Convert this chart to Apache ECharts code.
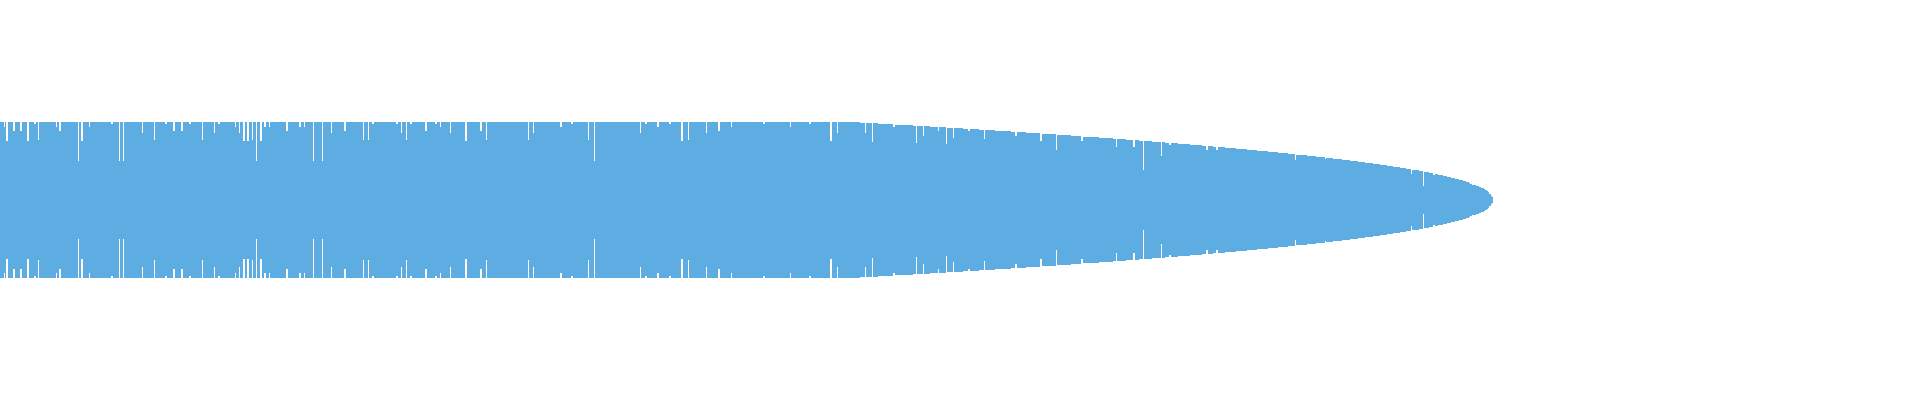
<!DOCTYPE html>
<html>
<head>
<meta charset="utf-8">
<script src="https://cdn.jsdelivr.net/npm/echarts@6/dist/echarts.min.js"></script>
<style>html,body{margin:0;padding:0;background:#fff;}#chart{width:1920px;height:400px;}</style>
</head>
<body>
<div id="chart"></div>
<script>
// Half-thickness of the symmetric band for each column (one category per column).
var amplitude = [
// 0-49
78,78,78,78,73,78,59,59,78,78, 78,78,78,69,69,78,78,78,78,78, 69,69,78,78,78,78,78,59,59,78, 78,78,78,78,76,76,78,78,60,78, 78,78,78,78,78,78,78,78,78,78,
// 50-99
78,78,78,78,78,78,73,78,78,69, 69,78,78,78,78,78,78,78,78,78, 78,78,78,78,78,78,78,78,39,78, 78,59,59,78,78,78,78,78,78,73, 78,78,78,78,78,78,78,78,78,78,
// 100-149
78,78,78,78,78,78,78,78,78,78, 78,76,76,78,78,78,78,78,78,39, 78,78,78,39,78,78,78,78,78,78, 78,78,78,78,78,78,78,78,78,78, 78,78,67,78,78,78,78,78,78,78,
// 150-199
78,78,78,78,60,78,78,78,78,78, 78,78,78,78,78,76,76,78,78,78, 78,78,78,69,69,78,78,78,78,78, 78,69,69,78,78,78,78,78,78,76, 76,78,78,78,78,78,78,78,78,78,
// 200-249
78,78,60,78,78,78,78,78,78,78, 78,78,78,78,67,78,78,78,76,76, 78,78,78,78,78,78,78,78,78,78, 78,78,78,78,78,73,78,78,78,67, 78,78,78,59,59,78,78,59,59,78,
// 250-299
78,78,60,78,78,78,39,78,78,78, 59,59,78,78,73,73,78,78,78,73, 78,78,78,78,78,78,78,78,78,78, 78,78,78,78,78,78,69,69,78,78, 78,78,78,78,78,78,78,78,78,73,
// 300-349
73,78,78,78,73,78,78,78,78,78, 78,78,78,39,78,78,78,78,78,78, 78,78,39,78,78,78,78,78,78,78, 78,67,78,78,78,78,78,78,78,78, 78,78,78,78,69,69,78,78,78,78,
// 350-399
78,78,78,78,78,78,78,78,78,78, 78,78,78,60,78,78,78,78,60,78, 78,78,76,76,78,78,78,78,78,78, 78,78,78,78,78,78,78,78,78,78, 78,78,78,78,78,78,76,76,78,78,
// 400-449
78,67,78,78,78,78,60,78,78,78, 76,76,78,78,78,78,78,78,78,78, 78,78,78,78,78,69,69,78,78,78, 78,78,78,78,78,76,76,78,78,78, 73,78,78,78,78,78,78,78,78,78,
// 450-499
67,78,78,78,78,78,78,78,78,78, 78,78,78,78,78,59,59,78,78,78, 78,78,78,78,78,78,78,78,78,78, 69,69,78,78,78,78,60,78,78,78, 78,78,78,78,78,78,78,78,78,78,
// 500-549
78,78,78,78,78,78,78,78,78,78, 78,78,78,78,78,78,78,78,78,78, 78,78,78,78,78,78,78,78,60,78, 78,78,78,67,78,78,78,78,78,78, 78,78,78,78,78,78,78,78,78,78,
// 550-599
78,78,78,78,78,78,78,78,78,78, 73,73,78,78,78,78,78,78,78,78, 78,76,76,78,78,78,78,78,78,78, 78,78,78,78,78,78,78,78,60,78, 78,78,78,78,39,78,78,78,78,78,
// 600-649
78,78,78,78,78,78,78,78,78,78, 78,78,78,78,78,78,78,78,78,78, 78,78,78,78,78,78,78,78,78,78, 78,78,78,78,78,78,78,78,78,78, 67,78,78,78,78,76,76,78,78,78,
// 650-699
78,78,78,78,78,78,78,73,73,78, 78,78,78,78,78,78,78,78,78,76, 76,78,78,78,78,78,78,78,78,78, 78,59,59,78,78,78,78,78,60,78, 78,78,78,78,78,78,78,78,78,78,
// 700-749
78,78,78,78,78,78,67,78,78,78, 78,78,78,78,78,78,78,78,69,69, 78,78,78,78,78,78,78,78,78,78, 78,73,78,78,78,78,78,78,78,78, 78,78,78,78,78,78,78,78,78,78,
// 750-799
78,78,78,78,78,78,78,78,78,78, 78,78,78,76,76,78,78,78,78,78, 78,78,78,78,78,78,78,78,78,78, 78,78,78,78,78,78,78,78,78,78, 73,78,78,78,78,78,78,78,78,78,
// 800-849
78,78,78,78,78,78,78,78,78,76, 76,78,78,78,78,78,78,78,78,78, 78,78,78,78,78,78,78,78,78,78, 59,59,78,78,78,78,78,67,78,78, 78,78,78,78,78,78,78,78,78,78,
// 850-899
78,78,78,78,78,78,78,78,78,78, 77,77,77,77,77,67,77,77,77,77, 77,77,58,77,77,77,77,77,76,76, 76,76,76,76,76,76,76,76,76,76, 76,76,76,73,73,75,75,75,75,75,
// 900-949
75,75,75,75,75,75,75,75,75,75, 75,75,75,74,74,74,57,74,74,74, 74,74,74,64,74,74,74,74,74,74, 73,73,73,73,73,73,73,73,69,73, 73,73,73,73,73,73,56,72,72,72,
// 950-999
72,72,72,62,72,72,72,72,72,72, 72,72,72,71,71,71,71,71,69,69, 71,71,71,71,71,71,71,71,71,70, 70,70,70,70,61,70,70,70,70,70, 70,70,70,70,70,69,69,69,69,69,
// 1000-1049
69,69,69,69,69,69,69,69,69,69, 69,68,68,68,68,64,64,68,68,68, 68,68,68,68,68,68,67,67,67,67, 67,67,67,67,67,67,67,67,67,67, 59,59,66,66,66,66,66,66,66,66,
// 1050-1099
66,66,66,66,66,66,50,65,65,65, 65,65,65,65,65,65,65,65,65,65, 65,64,64,64,64,64,64,64,64,64, 64,59,59,63,63,63,63,63,63,63, 63,63,63,63,63,63,63,63,63,62,
// 1100-1149
62,62,62,62,62,62,62,62,62,62, 62,62,62,61,61,61,53,61,61,61, 61,61,61,61,61,61,60,60,60,60, 60,60,60,53,53,60,60,60,60,59, 59,59,59,30,59,59,59,59,59,59,
// 1150-1199
59,59,58,58,58,58,58,58,58,58, 58,44,58,58,58,57,57,57,57,55, 55,57,57,57,57,57,57,57,56,56, 56,56,56,56,56,56,56,56,56,56, 55,55,55,55,55,55,55,55,55,55,
// 1200-1249
55,55,54,54,54,54,50,50,54,54, 54,54,54,53,53,53,50,50,53,53, 53,53,53,53,53,52,52,52,52,52, 52,52,52,52,52,52,51,51,51,51, 51,51,51,51,51,51,51,50,50,50,
// 1250-1299
50,50,50,50,50,50,50,49,49,49, 49,49,49,49,49,49,49,49,48,48, 48,48,48,48,48,48,48,48,47,47, 47,47,47,47,47,47,47,47,46,46, 46,46,46,46,46,40,45,45,45,45,
// 1300-1349
45,45,45,45,45,45,45,44,44,44, 44,44,44,44,44,44,43,43,43,43, 43,43,43,43,43,41,42,42,42,42, 42,42,42,41,41,41,41,41,41,41, 41,41,40,40,40,40,40,40,40,40,
// 1350-1399
39,39,39,39,39,39,39,39,38,38, 38,38,38,38,38,37,37,37,37,37, 37,37,37,36,36,36,36,36,36,36, 35,35,35,35,35,35,35,34,34,34, 34,34,34,33,33,33,33,33,33,33,
// 1400-1449
32,32,32,32,32,32,31,31,31,31, 31,26,30,30,30,30,30,30,30,29, 29,29,29,14,28,28,28,28,28,27, 27,27,27,25,25,26,26,26,25,25, 25,25,25,24,24,24,24,23,23,23,
// 1450-1492
23,22,22,22,22,21,21,21,21,20, 20,20,20,19,19,19,18,18,18,17, 16,16,15,15,15,15,14,14,14,13, 13,12,12,12,11,10,10,9,8,6, 6,4,3
];

var bandColor = '#5DADE2';
var chart = echarts.init(document.getElementById('chart'), null, {renderer: 'canvas'});
var columns = amplitude.length;
chart.setOption({
  animation: false,
  backgroundColor: '#ffffff',
  grid: [
    {left: 0, top: 0, width: columns, height: 200},
    {left: 0, top: 200, width: columns, height: 200}
  ],
  xAxis: [
    {type: 'category', gridIndex: 0, show: false, boundaryGap: true},
    {type: 'category', gridIndex: 1, show: false, boundaryGap: true}
  ],
  yAxis: [
    {type: 'value', gridIndex: 0, min: 0, max: 200, show: false, splitLine: {show: false}},
    {type: 'value', gridIndex: 1, min: 0, max: 200, inverse: true, show: false, splitLine: {show: false}}
  ],
  series: [
    {type: 'bar', xAxisIndex: 0, yAxisIndex: 0, data: amplitude, barCategoryGap: '0%', itemStyle: {color: bandColor}, silent: true},
    {type: 'bar', xAxisIndex: 1, yAxisIndex: 1, data: amplitude, barCategoryGap: '0%', itemStyle: {color: bandColor}, silent: true}
  ]
});
</script>
</body>
</html>
